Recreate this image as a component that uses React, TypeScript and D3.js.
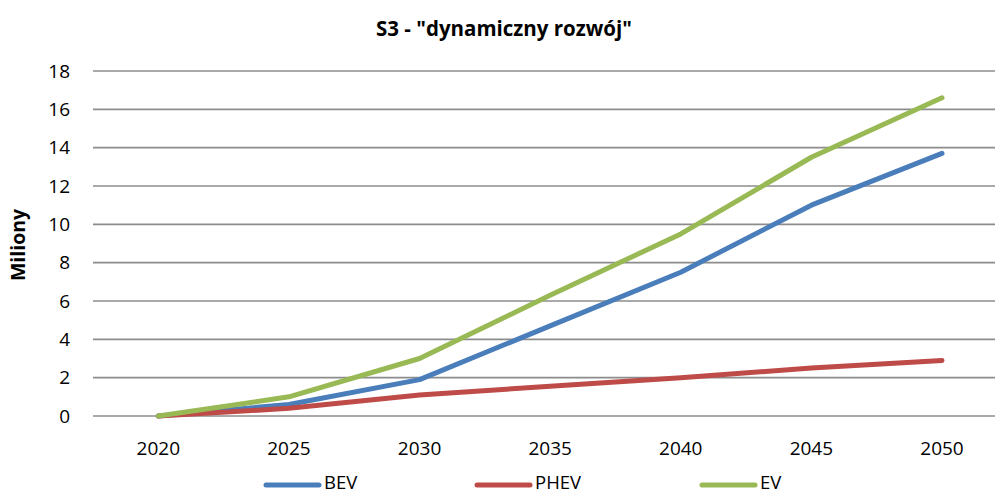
import * as d3 from "d3";

const years = ["2020", "2025", "2030", "2035", "2040", "2045", "2050"];
const bev = [0, 0.6, 1.9, 4.7, 7.5, 11.0, 13.7];
const phev = [0, 0.4, 1.1, 1.55, 2.0, 2.5, 2.9];
const ev = [0, 1.0, 3.0, 6.3, 9.5, 13.5, 16.6];
const yTicks = [0, 2, 4, 6, 8, 10, 12, 14, 16, 18];

const series = [
  { name: "BEV", values: bev, color: "#4a7ebb", lx: 266 },
  { name: "PHEV", values: phev, color: "#be4b48", lx: 477 },
  { name: "EV", values: ev, color: "#98b954", lx: 702 },
];

const width = 995;
const height = 495;
const font = "'Open Sans', sans-serif";

const App = () => {
  const x = d3.scalePoint().domain(years).range([158.3, 942]);
  const y = d3.scaleLinear().domain([0, 18]).range([416, 71]);
  const line = d3
    .line<number>()
    .x((d, i) => x(years[i]) as number)
    .y((d) => y(d));

  return (
    <svg
      width={width}
      height={height}
      style={{ position: "absolute", left: 0, top: 0, fontFamily: font }}
    >
      <text x={504} y={36} textAnchor="middle" fontSize={20.5} fontWeight="bold" fill="#000">
        S3 - "dynamiczny rozwój"
      </text>
      {yTicks.map((t) => (
        <g key={t}>
          <line x1={93} x2={1008} y1={y(t)} y2={y(t)} stroke="#8c8c8c" strokeWidth={1.6} />
          <text x={70} y={y(t)} dy="0.35em" textAnchor="end" fontSize={19} fill="#000">
            {t}
          </text>
        </g>
      ))}
      <text
        transform="translate(25,245) rotate(-90)"
        textAnchor="middle"
        fontSize={19.5}
        fontWeight="bold"
        fill="#000"
      >
        Miliony
      </text>
      {years.map((yr) => (
        <text key={yr} x={x(yr)} y={455} textAnchor="middle" fontSize={19} fill="#000">
          {yr}
        </text>
      ))}
      {series.map((s) => (
        <path
          key={s.name}
          d={line(s.values) || ""}
          fill="none"
          stroke={s.color}
          strokeWidth={5}
          strokeLinecap="round"
          strokeLinejoin="round"
        />
      ))}
      {series.map((s) => (
        <g key={s.name + "-leg"}>
          <line
            x1={s.lx}
            x2={s.lx + 53}
            y1={485}
            y2={485}
            stroke={s.color}
            strokeWidth={5}
            strokeLinecap="round"
          />
          <text x={s.lx + 58} y={489} fontSize={18.5} fill="#000">
            {s.name}
          </text>
        </g>
      ))}
    </svg>
  );
};

export default App;
